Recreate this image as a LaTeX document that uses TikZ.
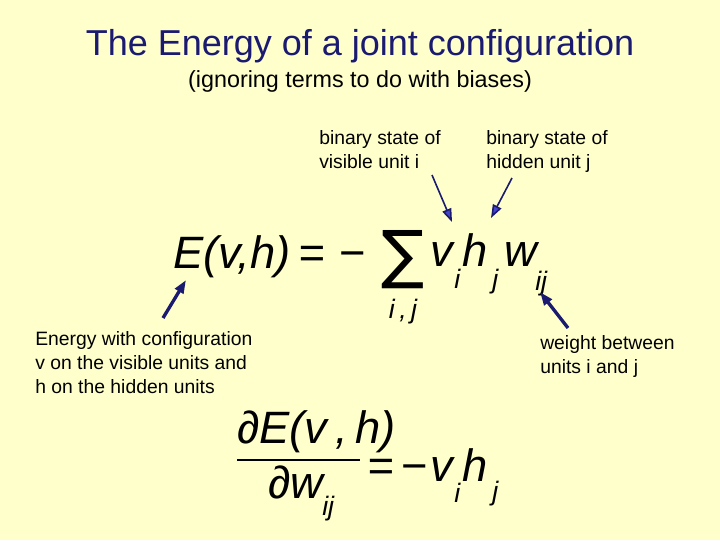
\documentclass[tikz,border=0pt]{standalone}
\usepackage{fontspec}
\setmainfont{Liberation Sans}
\newfontfamily\djfont{DejaVu Sans}
\usetikzlibrary{arrows.meta}
\definecolor{bg}{HTML}{FFFFCC}
\definecolor{ttl}{HTML}{1A1A70}
\definecolor{arr}{HTML}{4444CC}
\begin{document}
\begin{tikzpicture}[x=0.75pt,y=-0.75pt,
  lab/.style={anchor=north west,inner sep=0pt,font=\fontsize{14.5}{18}\selectfont,align=left},
  eq/.style={anchor=base west,inner sep=0pt,font=\fontsize{34}{34}\selectfont\itshape},
  sb/.style={anchor=base west,inner sep=0pt,font=\fontsize{20}{20}\selectfont\itshape},
  ar/.style={draw=ttl,line width=1.2pt,-{Triangle[length=10pt,width=7pt,fill=arr]}}]
\fill[bg] (0,0) rectangle (720,540);
\node[anchor=base,text=ttl,font=\fontsize{27}{27}\selectfont] (t) at (360,55) {The Energy of a joint configuration};
\node[anchor=base,font=\fontsize{17.5}{17.5}\selectfont] (st) at (360,87) {(ignoring terms to do with biases)};
\node[lab] (l1) at (319,130) {binary state of\\visible unit i};
\node[lab] (l2) at (486,130) {binary state of\\hidden unit j};
\node[lab] (l3) at (35,331) {Energy with configuration\\v on the visible units and\\h on the hidden units};
\node[lab] (l4) at (540,335) {weight between\\units i and j};
% equation 1
\node[eq] (e1) at (173,268) {E(v,h)\,=\,\,\textup{\textminus}};
\node[anchor=center,inner sep=0pt,font=\djfont\fontsize{48}{48}\selectfont] (sum) at (403,260) {∑};
\node[sb,anchor=base] (ij) at (403,318) {i\,,\,j};
\node[eq] (v) at (430,266) {v};
\node[sb] (vi) at (454,288) {i};
\node[eq] (h) at (462,266) {h};
\node[sb] (hj) at (492,288) {j};
\node[eq] (w) at (504,266) {w};
\node[sb] (wij) at (535,290) {ij};
% equation 2
\node[eq] (e2) at (237,443) {∂E(v\,,\,h)};
\draw[line width=1.2pt] (237,460) -- (360,460);
\node[eq] (dw) at (268,498) {∂w};
\node[sb] (dwij) at (322,515) {ij};
\node[eq] (e3) at (367,481) {=\,\textup{\textminus}};
\node[eq] (e3v) at (430,481) {v};
\node[sb] (e3i) at (454,502) {i};
\node[eq] (e3h) at (462,481) {h};
\node[sb] (e3j) at (492,500) {j};
% arrows
\coordinate (a1) at (432,175); \coordinate (b1) at (452,222);
\coordinate (a2) at (512,178); \coordinate (b2) at (491,218);
\coordinate (a3) at (163,318); \coordinate (b3) at (186,280);
\coordinate (a4) at (568,328); \coordinate (b4) at (540,292);
\draw[ar] (a1) -- (b1);
\draw[ar] (a2) -- (b2);
\draw[ar,line width=2.5pt] (a3) -- (b3);
\draw[ar,line width=2.5pt] (a4) -- (b4);
\end{tikzpicture}
\end{document}
